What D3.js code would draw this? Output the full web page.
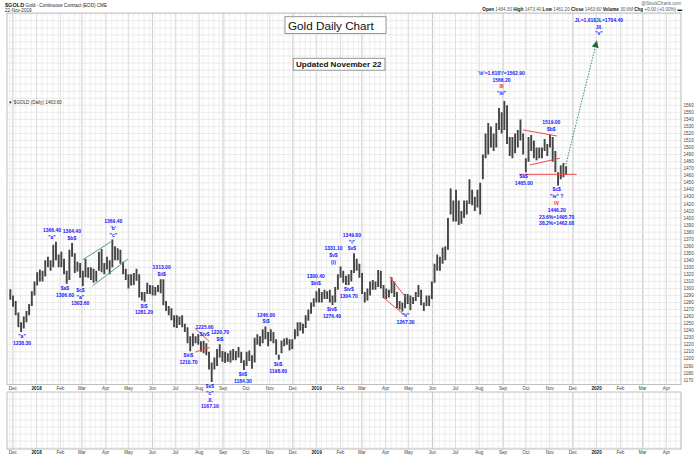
<!DOCTYPE html>
<html lang="en">
<head>
<meta charset="utf-8">
<title>Gold Daily Chart</title>
<style>
  body { margin: 0; background: #fff; }
  svg { display: block; font-family: "Liberation Sans", Arial, sans-serif; }
</style>
<script src="https://d3js.org/d3.v7.min.js"></script>
</head>
<body>
<script>
// ---- data (continuous gold contract, two bars per week) ----
const firstWeek = "2017-11-27";

const highs = [
  1299,1290, 1282,1266, 1252,1260, 1268,1278, 1296,1310,            // Nov-Dec 2017
  1323,1327, 1325,1340, 1345,1340, 1362,1366.4, 1348,1352,          // Jan 2018
  1342,1325, 1355,1364.4, 1350,1338, 1336,1325,                     // Feb
  1342,1330, 1330,1328, 1325,1352, 1356,1336,                       // Mar
  1345,1340, 1369.4,1360, 1357,1355, 1338,1328,                     // Apr
  1320,1320, 1322,1328, 1320,1295, 1295,1308, 1305,1304,            // May
  1302,1305, 1313,1313, 1282,1275, 1272,1262,                       // Jun
  1262,1260, 1262,1250, 1245,1232, 1236,1232, 1235,1225,            // Jul
  1225.6,1222, 1210,1195, 1202,1214, 1220.7,1211,                   // Aug
  1210,1208, 1212,1214, 1211,1217, 1210,1198,                       // Sep
  1210,1212, 1205,1230, 1235,1232, 1242,1246, 1238,1242,            // Oct
  1238,1228, 1206,1226, 1229,1230, 1228,1228,                       // Nov
  1242,1252, 1252,1250, 1262,1270, 1280,1286, 1296,1300.4,          // Dec
  1295,1298, 1296,1298, 1290,1302, 1320,1331.1,                     // Jan 2019
  1325,1318, 1320,1326, 1349.8,1342, 1335,1322,                     // Feb
  1295,1300, 1310,1312, 1310,1326, 1325,1305,                       // Mar
  1300,1298, 1316,1310, 1295,1282, 1280,1292, 1292,1290,            // Apr
  1288,1295, 1305,1298, 1280,1290, 1290,1310,                       // May
  1335,1348, 1345,1358, 1360,1400, 1442,1425,                       // Jun
  1440,1425, 1410,1425, 1425,1455, 1440,1430, 1440,1450,            // Jul
  1490,1520, 1535,1530, 1520,1535, 1556,1550,                       // Aug
  1566.2,1560, 1515,1515, 1520,1525, 1540,1520,                     // Sep
  1485,1515, 1518,1510, 1500,1500, 1500,1512, 1505,1519,            // Oct
  1515,1495, 1465,1475, 1478,1473.4                                 // Nov
];

const lows = [
  1284,1274, 1262,1245, 1238.3,1243, 1252,1262, 1275,1290,
  1304,1310, 1310,1317, 1330,1325, 1330,1340, 1330,1330,
  1320,1306.6, 1312,1345, 1322,1324, 1315,1303.6,
  1316,1315, 1312,1308, 1310,1325, 1323,1320,
  1327,1320, 1330,1340, 1340,1335, 1320,1312,
  1300,1304, 1305,1311, 1287,1283, 1281.2,1292, 1292,1290,
  1290,1295, 1293,1276, 1268,1262, 1255,1245,
  1244,1248, 1245,1238, 1222,1210.7, 1218,1222, 1220,1210,
  1208,1205, 1185,1167.1, 1185,1190, 1202,1196,
  1194,1196, 1195,1198, 1198,1202, 1194,1184.3,
  1190,1197, 1186,1195, 1220,1218, 1222,1228, 1218,1225,
  1222,1206, 1198.6,1208, 1218,1220, 1212,1214,
  1228,1232, 1240,1236, 1244,1254, 1264,1274, 1280,1280,
  1280,1285, 1285,1280, 1276.4,1280, 1298,1315,
  1308,1304.7, 1305,1310, 1322,1325, 1315,1292,
  1280,1283, 1290,1298, 1298,1302, 1300,1286,
  1285,1287, 1293,1288, 1272,1270, 1267.3,1272, 1278,1269,
  1278,1282, 1288,1276, 1268,1275, 1275,1285,
  1308,1325, 1325,1335, 1340,1355, 1405,1395,
  1395,1390, 1392,1400, 1405,1420, 1418,1410, 1415,1405,
  1455,1485, 1490,1500, 1495,1500, 1525,1520,
  1525,1505, 1488,1485, 1492,1500, 1510,1490,
  1465,1480, 1495,1485, 1482,1485, 1485,1495, 1488,1500,
  1480,1465, 1446.2,1455, 1458,1461.2
];

const priceTicks = d3.range(1170, 1561, 10);

// wave labels: anchor date, anchor price, labels stacked above the high or below the low
const waveLabels = [
  { date: "2017-12-13", price: 1238.3, side: "below", lines: ['"a"', "1238.30"] },
  { date: "2018-01-21", price: 1366.4, side: "above", lines: ["1366.40", '"a"'] },
  { date: "2018-02-16", price: 1364.4, side: "above", lines: ["1364.40", "$b$"] },
  { date: "2018-02-07", price: 1306.6, side: "below", lines: ["$a$", "1306.60"] },
  { date: "2018-02-27", price: 1303.6, side: "below", lines: ["$c$", '"a"', "1303.60"] },
  { date: "2018-04-11", price: 1369.4, side: "above", lines: ["1369.40", "'b'", '"c"'] },
  { date: "2018-05-21", price: 1281.2, side: "below", lines: ["$i$", "1281.20"] },
  { date: "2018-06-13", price: 1313.0, side: "above", lines: ["1313.00", "$ii$"] },
  { date: "2018-07-18", price: 1210.7, side: "below", lines: ["$iii$", "1210.70"] },
  { date: "2018-08-08", price: 1228.0, side: "above", lines: ["1225.60", "$iv$"] },
  { date: "2018-08-15", price: 1167.1, side: "below", lines: ["$v$", '"c"', ".II.", "1167.10"] },
  { date: "2018-08-28", price: 1220.7, side: "above", lines: ["1220.70", "$i$"] },
  { date: "2018-09-27", price: 1184.3, side: "below", lines: ["$ii$", "1184.30"] },
  { date: "2018-10-27", price: 1246.0, side: "above", lines: ["1246.00", "$i$"] },
  { date: "2018-11-12", price: 1198.6, side: "below", lines: ["$ii$", "1198.60"] },
  { date: "2018-12-31", price: 1300.4, side: "above", lines: ["1300.40", "$iii$"] },
  { date: "2019-01-21", price: 1276.4, side: "below", lines: ["$iv$", "1276.40"] },
  { date: "2019-01-23", price: 1331.1, side: "above", lines: ["1331.10", "$v$", "(i)"] },
  { date: "2019-02-12", price: 1304.7, side: "below", lines: ["$iv$", "1304.70"] },
  { date: "2019-02-16", price: 1349.8, side: "above", lines: ["1349.80", '"i"', "$v$"] },
  { date: "2019-04-27", price: 1267.3, side: "below", lines: ['"ii"', "1267.30"] },
  { date: "2019-08-30", price: 1570.0, side: "above", lines: ["'iii'=1.618'i'=1562.90", "1566.20", "III", '"iii"'] },
  { date: "2019-11-03", price: 1519.0, side: "above", lines: ["1519.00", "$b$"] },
  { date: "2019-09-28", price: 1465.0, side: "below", lines: ["$a$", "1465.00"] },
  { date: "2019-11-10", price: 1446.2, side: "below", lines: ["$c$", '"iv" ?', "IV", "1446.20", "23.6%=1495.70", "38.2%=1462.00"] },
  { date: "2020-01-04", price: 1655.0, side: "above", lines: ["JL=1.618JL=1704.40", ".III.", '"v"'] }
];
const redLabels = new Set(["III", "IV"]);

// drawn trend lines [date, price] -> [date, price]
const channelLines = [
  [["2018-03-02", 1340.6], ["2018-04-08", 1366.3]],
  [["2018-03-15", 1303.7], ["2018-04-30", 1341.6]]
];
const redLines = [
  [["2018-07-26", 1243.7], ["2018-08-14", 1224.8]],
  [["2018-07-27", 1209.7], ["2018-08-15", 1216.2]],
  [["2019-04-06", 1316.9], ["2019-04-28", 1286.3]],
  [["2019-03-30", 1286.3], ["2019-04-26", 1261.6]],
  [["2019-09-27", 1525.0], ["2019-11-10", 1516.5]],
  [["2019-10-06", 1475.3], ["2019-11-14", 1484.8]],
  [["2019-09-22", 1462.0], ["2019-12-06", 1462.0]]
];
const projection = [["2019-11-22", 1476], ["2020-01-01", 1650]];

// ---- layout ----
const W = 700, H = 456;
const plot = { left: 7, right: 681, top: 13, bottom: 384.5 };
const lower = { top: 392, bottom: 449 };

const parse = d3.utcParse("%Y-%m-%d");
const DAY = 864e5;

const x = d3.scaleUtc()
    .domain([parse("2019-01-01"), parse("2020-01-01")])
    .range([316.6, 596.6]);
const y = d3.scaleLinear()
    .domain([1170, 1560])
    .range([380, 105.3]);

const svg = d3.select("body").append("svg")
    .attr("width", W)
    .attr("height", H);

const defs = svg.append("defs");
defs.append("clipPath").attr("id", "clipMain")
  .append("rect")
    .attr("x", plot.left).attr("y", plot.top)
    .attr("width", plot.right - plot.left).attr("height", plot.bottom - plot.top);
defs.append("marker")
    .attr("id", "arrow")
    .attr("viewBox", "0 0 10 10")
    .attr("refX", 8).attr("refY", 5)
    .attr("markerWidth", 7).attr("markerHeight", 7)
    .attr("markerUnits", "userSpaceOnUse")
    .attr("orient", "auto")
  .append("path")
    .attr("d", "M0,0L10,5L0,10Z")
    .attr("fill", "#1e6b34");

const dStart = x.invert(plot.left), dEnd = x.invert(plot.right);
const mondays = d3.utcMonday.range(dStart, dEnd);
const months = d3.utcMonth.range(d3.utcMonth.ceil(dStart), dEnd);

// ---- grids ----
function vGrid(g, top, bottom) {
  g.selectAll("line.wk").data(mondays).join("line")
      .attr("class", "wk")
      .attr("x1", d => x(d)).attr("x2", d => x(d))
      .attr("y1", top).attr("y2", bottom)
      .attr("stroke", "#ececec").attr("stroke-width", 0.8);
  g.selectAll("line.mo").data(months).join("line")
      .attr("class", "mo")
      .attr("x1", d => x(d)).attr("x2", d => x(d))
      .attr("y1", top).attr("y2", bottom)
      .attr("stroke", d => d.getUTCMonth() % 3 === 2 ? "#c4c4c4" : "#d9d9d9")
      .attr("stroke-width", 0.9);
}

const main = svg.append("g").attr("clip-path", "url(#clipMain)");
vGrid(main, plot.top, plot.bottom);
main.selectAll("line.h").data(d3.range(1160, 1700, 10)).join("line")
    .attr("class", "h")
    .attr("x1", plot.left).attr("x2", plot.right)
    .attr("y1", d => y(d)).attr("y2", d => y(d))
    .attr("stroke", "#e4e4e4").attr("stroke-width", 0.8);

const low = svg.append("g");
vGrid(low, lower.top, lower.bottom);
low.selectAll("line.h").data(d3.range(lower.top + 7, lower.bottom, 7)).join("line")
    .attr("class", "h")
    .attr("x1", plot.left).attr("x2", plot.right)
    .attr("y1", d => d).attr("y2", d => d)
    .attr("stroke", "#e4e4e4").attr("stroke-width", 0.8);

[[plot.top, plot.bottom], [lower.top, lower.bottom]].forEach(([t, b]) => {
  svg.append("rect")
      .attr("x", plot.left).attr("y", t)
      .attr("width", plot.right - plot.left).attr("height", b - t)
      .attr("fill", "none").attr("stroke", "#b0b0b0").attr("stroke-width", 0.8);
});

// ---- price bars ----
const week0 = parse(firstWeek);
const bars = highs.map((h, i) => ({
  date: new Date(+week0 + (Math.floor(i / 2) * 7 + (i % 2 ? 4.25 : 0.75)) * DAY),
  high: h,
  low: lows[i]
}));

main.append("g").selectAll("line").data(bars).join("line")
    .attr("x1", d => x(d.date)).attr("x2", d => x(d.date))
    .attr("y1", d => y(d.high)).attr("y2", d => y(d.low))
    .attr("stroke", "#444").attr("stroke-width", 1.9);

// ---- trend lines ----
const pt = p => [x(parse(p[0])), y(p[1])];
main.append("g").selectAll("line").data(channelLines).join("line")
    .attr("x1", d => pt(d[0])[0]).attr("y1", d => pt(d[0])[1])
    .attr("x2", d => pt(d[1])[0]).attr("y2", d => pt(d[1])[1])
    .attr("stroke", "#4f9f74").attr("stroke-width", 1);
main.append("g").selectAll("line").data(redLines).join("line")
    .attr("x1", d => pt(d[0])[0]).attr("y1", d => pt(d[0])[1])
    .attr("x2", d => pt(d[1])[0]).attr("y2", d => pt(d[1])[1])
    .attr("stroke", "#f04a4a").attr("stroke-width", 1);

svg.append("line")
    .attr("x1", pt(projection[0])[0]).attr("y1", pt(projection[0])[1])
    .attr("x2", pt(projection[1])[0]).attr("y2", pt(projection[1])[1])
    .attr("stroke", "#2f8a4f").attr("stroke-width", 1)
    .attr("stroke-dasharray", "1.4,1.4")
    .attr("marker-end", "url(#arrow)");

// ---- wave labels ----
const lab = svg.append("g")
    .attr("font-size", 5)
    .attr("font-weight", "bold")
    .attr("text-anchor", "middle");
waveLabels.forEach(a => {
  const cx = x(parse(a.date)), py = y(a.price), n = a.lines.length;
  a.lines.forEach((t, i) => {
    const by = a.side === "above" ? py - 3 - (n - 1 - i) * 6.8 : py + 6 + i * 6.8;
    lab.append("text")
        .attr("x", cx).attr("y", by)
        .attr("fill", redLabels.has(t) ? "#ff1a1a" : "#1515ff")
        .text(t);
  });
});

// ---- axes ----
svg.append("g").attr("font-size", 4.6).attr("fill", "#444")
  .selectAll("text").data(priceTicks).join("text")
    .attr("x", plot.right + 2.5).attr("y", d => y(d) + 1.6)
    .text(d => d);

[plot.bottom + 5.6, H - 2.2].forEach(by => {
  svg.append("g").attr("font-size", 4.6).attr("text-anchor", "middle").attr("fill", "#444")
    .selectAll("text").data(d3.utcMonth.range(parse("2017-12-01"), parse("2020-05-01"))).join("text")
      .attr("x", d => x(d)).attr("y", by)
      .attr("font-weight", d => d.getUTCMonth() === 0 ? "bold" : "normal")
      .attr("fill", d => d.getUTCMonth() === 0 ? "#111" : "#444")
      .text(d => d.getUTCMonth() === 0 ? d3.utcFormat("%Y")(d) : d3.utcFormat("%b")(d));
});

// ---- header ----
const head = svg.append("text").attr("x", 5).attr("y", 7).attr("fill", "#222");
head.append("tspan").attr("font-size", 5.6).attr("font-weight", "bold").text("$GOLD");
head.append("tspan").attr("font-size", 4.6).text(" Gold - Continuous Contract (EOD) CME");
svg.append("text").attr("x", 5).attr("y", 12.3).attr("font-size", 4.6).attr("fill", "#333")
    .text("22-Nov-2019");

svg.append("text").attr("x", plot.right).attr("y", 5.2).attr("font-size", 4.6)
    .attr("text-anchor", "end").attr("fill", "#666").text("@StockCharts.com");

const ohlc = [["Open", "1464.30"], ["High", "1473.40"], ["Low", "1461.20"], ["Close", "1463.60"],
              ["Volume", "30.6M"], ["Chg", "+0.00 (+0.00%)"]];
const info = svg.append("text").attr("x", plot.right + 1).attr("y", 11.3)
    .attr("font-size", 4.6).attr("text-anchor", "end");
ohlc.forEach(([k, v], i) => {
  info.append("tspan").attr("font-weight", "bold").attr("fill", "#111").text((i ? " " : "") + k + " ");
  info.append("tspan").attr("fill", "#555").text(v);
});
info.append("tspan").attr("fill", "#111").text(" \u25AC");

svg.append("text").attr("x", 8).attr("y", 104).attr("font-size", 4.6).attr("fill", "#333")
    .text("\u25BC $GOLD (Daily) 1463.60");

// ---- title boxes ----
svg.append("rect").attr("x", 285).attr("y", 16.7).attr("width", 101).attr("height", 16.8)
    .attr("fill", "#fff").attr("stroke", "#8a8a8a").attr("stroke-width", 0.9);
svg.append("text").attr("x", 288).attr("y", 30).attr("font-size", 11.7).attr("fill", "#111")
    .text("Gold Daily Chart");

svg.append("rect").attr("x", 293.3).attr("y", 58.3).attr("width", 91.7).attr("height", 11.9)
    .attr("fill", "#fff").attr("stroke", "#8a8a8a").attr("stroke-width", 0.9);
svg.append("text").attr("x", 296).attr("y", 67).attr("font-size", 8.1).attr("font-weight", "bold")
    .attr("fill", "#111").text("Updated November 22");
</script>
</body>
</html>
